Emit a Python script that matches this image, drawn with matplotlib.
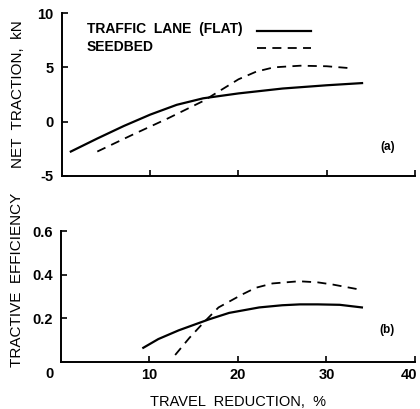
import matplotlib
matplotlib.use("Agg")
import matplotlib.pyplot as plt
import matplotlib.transforms as mtransforms
from matplotlib.lines import Line2D

plt.rcParams['font.family'] = ['Liberation Sans', 'DejaVu Sans']
plt.rcParams['font.weight'] = 'bold'
plt.rcParams['axes.unicode_minus'] = False

# net traction, kN
lane_x = [1, 4, 7, 10, 13, 16, 20, 25, 30, 34]
lane_pull = [-2.75, -1.55, -0.4, 0.65, 1.55, 2.15, 2.6, 3.05, 3.35, 3.55]
seed_x = [4, 8, 12, 16, 18, 20, 22, 24, 27, 30, 33]
seed_pull = [-2.75, -1.2, 0.3, 1.9, 2.9, 3.9, 4.6, 5.0, 5.15, 5.1, 4.9]

# tractive efficiency
lane_te_x = [9.3, 11, 13.3, 16.7, 19, 22.4, 25, 27, 29, 31.5, 34]
lane_te = [0.065, 0.105, 0.145, 0.195, 0.225, 0.25, 0.26, 0.264, 0.264, 0.262, 0.25]
seed_te_x = [12.9, 14.5, 16.1, 17.8, 20.5, 22, 23.9, 26.9, 29, 30.7, 34]
seed_te = [0.032, 0.11, 0.18, 0.25, 0.31, 0.34, 0.36, 0.37, 0.365, 0.355, 0.33]

series_names = ['TRAFFIC  LANE  (FLAT)', 'SEEDBED']
x_ticks = [10, 20, 30, 40]
fs = 10.5
solid_lw = 1.6
dash_lw = 1.3
dash = (0, (5, 3.5))

fig = plt.figure(figsize=(4.2, 4.09), dpi=100)
ax1 = fig.add_axes([0.1476, 0.5697, 0.8405, 0.3985])
ax2 = fig.add_axes([0.1452, 0.115, 0.8429, 0.32])

for ax in (ax1, ax2):
    for s in ('top', 'right'):
        ax.spines[s].set_visible(False)
    for s in ('left', 'bottom'):
        ax.spines[s].set_linewidth(1.4)
    ax.tick_params(direction='in', length=4, width=1.2, labelsize=fs)
    ax.set_xlim(0, 40)
    ax.set_xticks(x_ticks)

# (a) net traction
ax1.plot(lane_x, lane_pull, color='black', lw=solid_lw)
ax1.plot(seed_x, seed_pull, color='black', lw=dash_lw, linestyle=dash)
ax1.set_ylim(-5, 10)
ax1.set_yticks([-5, 0, 5, 10])
ax1.tick_params(axis='x', labelbottom=False)
ax1.tick_params(axis='y', pad=6)
ax1.set_ylabel('NET  TRACTION,  kN', fontsize=11)
ax1.text(0.923, 0.178, '(a)', transform=ax1.transAxes, fontsize=8.5,
         ha='center', va='center')

# key: label on the left, line sample on the right
key_styles = [dict(lw=solid_lw), dict(lw=dash_lw, linestyle=dash)]
for i, (name, style) in enumerate(zip(series_names, key_styles)):
    ty = 0.902 - i * 0.108
    ax1.text(0.071, ty, name, transform=ax1.transAxes, fontsize=10,
             ha='left', va='center')
    ax1.add_line(Line2D([0.552, 0.705], [ty - 0.01, ty - 0.01], color='black',
                        transform=ax1.transAxes, **style))

# (b) tractive efficiency
ax2.plot(lane_te_x, lane_te, color='black', lw=solid_lw)
ax2.plot(seed_te_x, seed_te, color='black', lw=dash_lw, linestyle=dash)
ax2.set_ylim(0, 0.6)
ax2.set_yticks([0.2, 0.4, 0.6])
ax2.set_yticklabels(['0.2', '0.4', '0.6'])
ax2.tick_params(axis='y', pad=6)
ax2.tick_params(axis='x', pad=4)
ax2.text(-1.3, -0.035, '0', transform=ax2.get_xaxis_transform(),
         fontsize=fs, ha='center', va='top')
ax2.set_ylabel('TRACTIVE  EFFICIENCY', fontsize=11)
ax2.set_xlabel('TRAVEL  REDUCTION,  %', fontsize=fs, labelpad=10)
ax2.text(0.92, 0.244, '(b)', transform=ax2.transAxes, fontsize=8.5,
         ha='center', va='center')

# keep the last tick label inside the figure edge
last = ax2.get_xticklabels()[-1]
last.set_horizontalalignment('right')
last.set_transform(last.get_transform() +
                   mtransforms.ScaledTranslation(2 / 100, 0, fig.dpi_scale_trans))

ax1.yaxis.set_label_coords(-0.105, 0.5)
ax2.yaxis.set_label_coords(-0.105, 0.63)

fig.savefig('out.png', dpi=100)
